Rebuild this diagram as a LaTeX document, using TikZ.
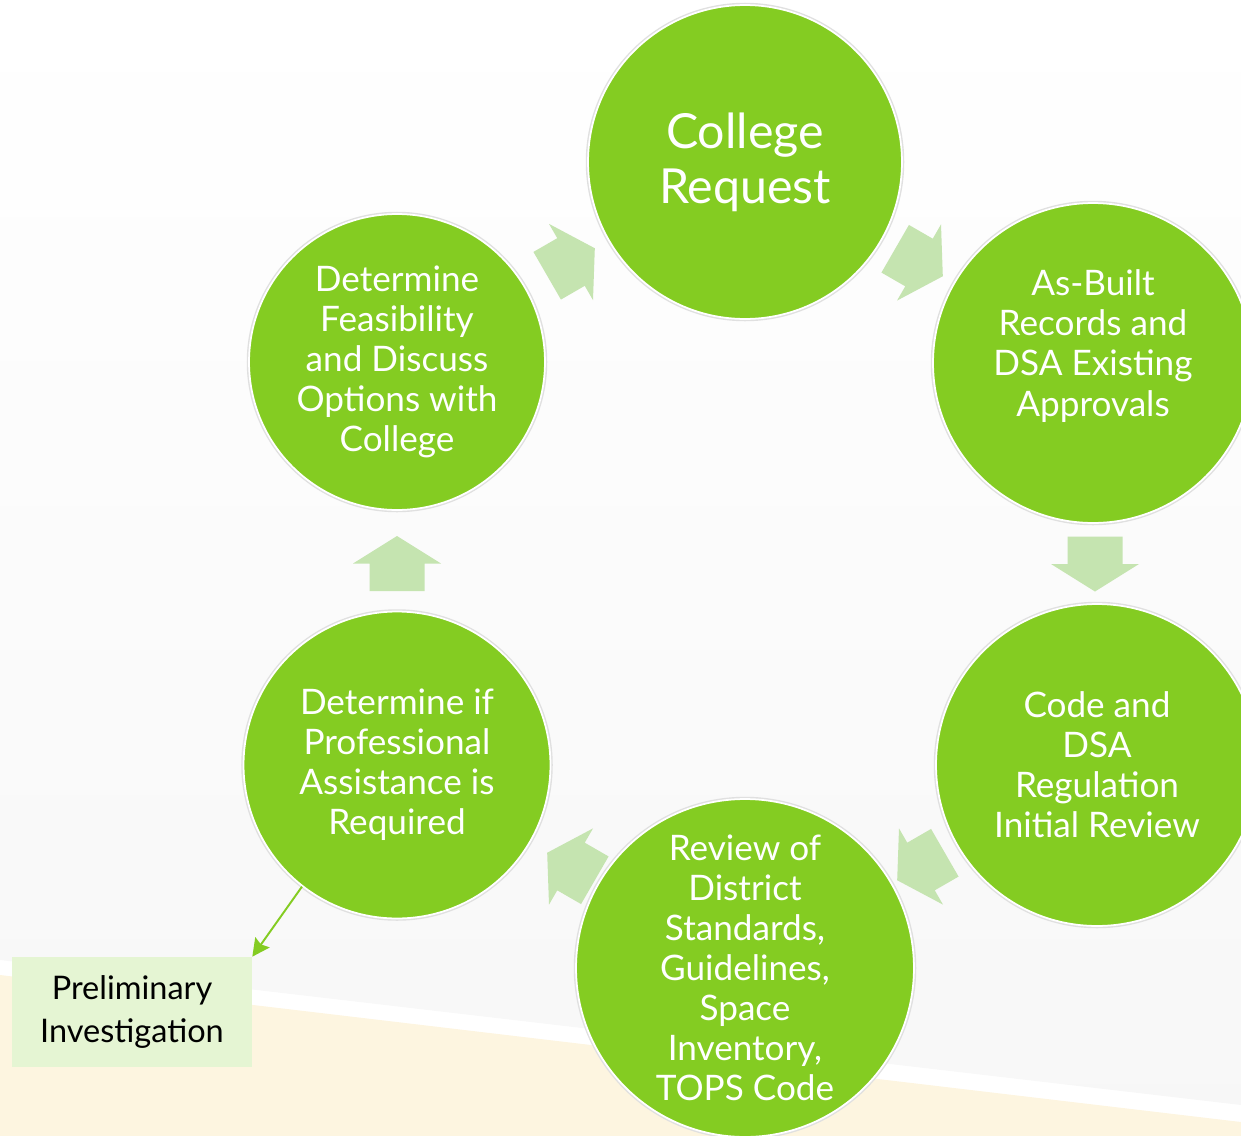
\documentclass[tikz,border=0pt]{standalone}
\usepackage{fontspec}
\setmainfont{Lato}
\usetikzlibrary{calc,arrows.meta}

\definecolor{stepgreen}{RGB}{132,204,34}
\definecolor{arrowgreen}{RGB}{197,228,176}
\definecolor{notegreen}{RGB}{229,245,211}
\definecolor{creamband}{RGB}{253,245,224}

\begin{document}
\begin{tikzpicture}[x=0.02cm, y=-0.02cm]
  \tikzstyle{stage} = [circle, fill=stepgreen, draw=white, line width=1pt, preaction={draw=black!12, line width=2.6pt}, text=white, align=center, inner sep=0pt, font=\fontsize{20}{22.8}\selectfont]
  \tikzstyle{note} = [rectangle, fill=notegreen, minimum width=4.8cm, minimum height=2.2cm, align=center, font=\fontsize{18.5}{24.4}\selectfont]
  \tikzstyle{connector} = [draw=stepgreen, line width=1.1pt, -{Stealth[length=10pt,width=10pt,inset=1.5pt]}]
  \tikzset{flowarrow/.pic={\fill[arrowgreen] (-27.5,-27.5) -- (0,-27.5) -- (0,-44) -- (27.5,0) -- (0,44) -- (0,27.5) -- (-27.5,27.5) -- cycle;}}

  % page background
  \clip (0,0) rectangle (1241,1136);
  \shade[top color=white, bottom color=black!3] (0,0) -- (1241,0) -- (1241,1105) -- (0,960) -- cycle;
  \fill[creamband] (0,975) -- (1241,1122) -- (1241,1136) -- (0,1136) -- cycle;

  \node (col) [stage, minimum size=6.28cm, font=\fontsize{27.5}{31.3}\selectfont] at (745,162) {College\\Request};
  \node (asb) [stage, minimum size=6.4cm] at (1093,363) {As-Built\\Records and\\DSA Existing\\Approvals\\\mbox{}};
  \node (code) [stage, minimum size=6.44cm] at (1097,765) {Code and\\DSA\\Regulation\\Initial Review};
  \node (rev) [stage, minimum size=6.76cm] at (745,968) {Review of\\District\\Standards,\\Guidelines,\\Space\\Inventory,\\TOPS Code};
  \node (detif) [stage, minimum size=6.14cm] at (397,765) {Determine if\\Professional\\Assistance is\\Required};
  \node (feas) [stage, minimum size=5.92cm] at (397,362) {Determine\\Feasibility\\and Discuss\\Options with\\College};

  % cycle arrows halfway between the stages
  \foreach \a/\b/\ang in {feas/col/30, col/asb/-30, asb/code/-90, code/rev/-150, rev/detif/150, detif/feas/90}
    \pic[rotate=\ang] at ($(\a)!0.5!(\b)$) {flowarrow};

  \node (prelim) [note] at (132,1012) {Preliminary\\Investigation};
  \draw [connector] (detif.232) -- (prelim.north east);
\end{tikzpicture}
\end{document}
